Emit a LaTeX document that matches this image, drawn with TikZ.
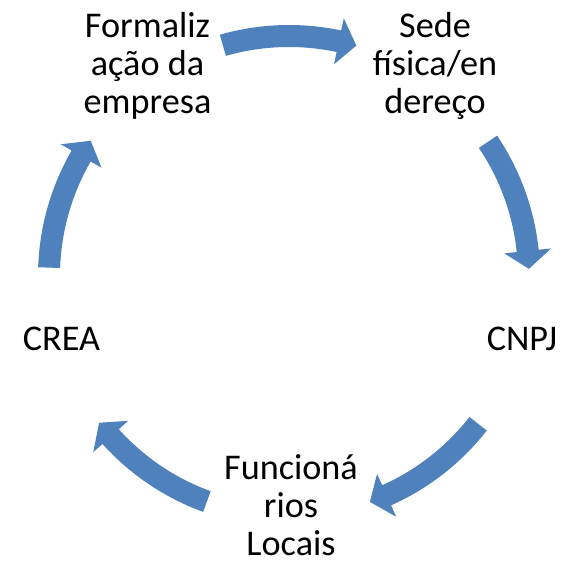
\documentclass[tikz,border=0pt]{standalone}
\usepackage{fontspec}
\setmainfont{Carlito}
\usetikzlibrary{calc}
\definecolor{cycleblue}{HTML}{4F81BD}

\tikzset{
    cycletext/.style={align=center, inner sep=0pt, font=\fontsize{20.6}{21.6}\selectfont},
    cyclearrow/.style={fill=cycleblue, draw=none}
}

\begin{document}
\begin{tikzpicture}
        \useasboundingbox (0,0) rectangle (11.44,11.28);

        \coordinate (O) at (5.78, 5.76);

        \coordinate (P1) at (2.95, 9.97);
        \coordinate (P2) at (8.70, 9.96);
        \coordinate (P3) at (10.44, 4.50);
        \coordinate (P4) at (5.82, 1.17);
        \coordinate (P5) at (1.23, 4.50);

        \node[cycletext] (formal) at (P1) {Formaliz\\ação da\\empresa};
        \node[cycletext] (sede) at (P2) {Sede\\física/en\\dereço};
        \node[cycletext] (cnpj) at (P3) {CNPJ};
        \node[cycletext] (func) at (P4) {Funcioná\\rios\\Locais};
        \node[cycletext] (crea) at (P5) {CREA};

        % arrows on the circle, clockwise
        \foreach \a in {90, 18, -54, -126, 162} {
            \fill[cyclearrow] ([shift={(\a+16:5.02)}]O)
                arc[start angle=\a+16, end angle=\a-12, radius=5.02]
                -- ([shift={(\a-12:5.27)}]O)
                -- ([shift={(\a-16.3:4.8)}]O)
                -- ([shift={(\a-12:4.33)}]O)
                -- ([shift={(\a-12:4.58)}]O)
                arc[start angle=\a-12, end angle=\a+16, radius=4.58]
                -- cycle;
        }
    \end{tikzpicture}
\end{document}
